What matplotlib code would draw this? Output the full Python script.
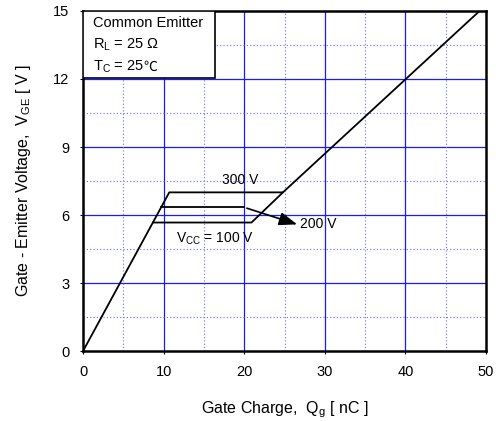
import matplotlib

matplotlib.use("Agg")
import matplotlib.pyplot as plt

plt.rcParams["font.family"] = ["Liberation Sans", "DejaVu Sans"]
plt.rcParams["mathtext.fontset"] = "custom"
plt.rcParams["mathtext.rm"] = "Liberation Sans"
plt.rcParams["mathtext.it"] = "Liberation Sans"

# gate charge curves (nC, V)
q_300 = [0.0, 10.7, 24.8, 49.2]
v_300 = [0.0, 7.0, 7.0, 15.0]
q_200 = [9.7, 20.0]
v_200 = [6.34, 6.34]
q_100 = [8.7, 20.9, 24.8]
v_100 = [5.67, 5.67, 7.0]

x_major = [0, 10, 20, 30, 40, 50]
y_major = [0, 3, 6, 9, 12, 15]
x_minor = [5, 15, 25, 35, 45]
y_minor = [1.5, 4.5, 7.5, 10.5, 13.5]

fig = plt.figure(figsize=(4.98, 4.21), dpi=100)
ax = fig.add_axes([0.1667, 0.166, 0.8093, 0.808])

for x in x_major[1:-1]:
    ax.axvline(x, color="#1a1aff", lw=0.9, zorder=1)
for y in y_major[1:-1]:
    ax.axhline(y, color="#1a1aff", lw=0.9, zorder=1)
for x in x_minor:
    ax.axvline(x, color="#6a6aff", lw=0.8, ls=(0, (1, 2)), zorder=1)
for y in y_minor:
    ax.axhline(y, color="#6a6aff", lw=0.8, ls=(0, (1, 2)), zorder=1)

ax.plot(q_300, v_300, color="black", lw=1.3, zorder=3)
ax.plot(q_200, v_200, color="black", lw=1.3, zorder=3)
ax.plot(q_100, v_100, color="black", lw=1.3, zorder=3)

ax.annotate("", xy=(26.9, 5.55), xytext=(q_200[-1], v_200[-1]),
            arrowprops=dict(arrowstyle="-|>,head_length=1.1,head_width=0.4",
                            color="black", lw=1.2), zorder=4)

ax.text(19.5, 7.25, "300 V", fontsize=10, ha="center", va="bottom")
ax.text(26.9, 5.6, "200 V", fontsize=10, ha="left", va="center")
ax.text(11.5, 4.95, r"V$_{\mathregular{CC}}$ = 100 V", fontsize=10, ha="left", va="center")

# parameter box
ax.add_patch(plt.Rectangle((0, 12.05), 16.4, 2.95, facecolor="white",
                           edgecolor="black", lw=1.2, zorder=4))
ax.text(1.2, 14.45, "Common Emitter", fontsize=10.5, ha="left", va="center", zorder=5)
ax.text(1.2, 13.5, r"R$_{\mathregular{L}}$ = 25 Ω", fontsize=10.5, ha="left", va="center", zorder=5)
t_c = ax.text(1.2, 12.55, r"T$_{\mathregular{C}}$ = 25", fontsize=10.5, ha="left", va="center", zorder=5)
ax.annotate("℃", xy=(1, 0.5), xycoords=t_c, ha="left", va="center", fontsize=10,
            family=["Noto Sans CJK SC", "DejaVu Sans"], zorder=5)

ax.set_xlim(0, 50)
ax.set_ylim(0, 15)
ax.set_xticks(x_major)
ax.set_yticks(y_major)
ax.tick_params(length=2, labelsize=10.5, pad=8)
for s in ax.spines.values():
    s.set_linewidth(1.8)

ax.set_xlabel(r"Gate Charge,  Q$_{\mathregular{g}}$ [ nC ]", fontsize=11.5, labelpad=15)
ax.set_ylabel(r"Gate - Emitter Voltage,  V$_{\mathregular{GE}}$ [ V ]", fontsize=11.5, labelpad=14)

fig.savefig("out.png", dpi=100)
